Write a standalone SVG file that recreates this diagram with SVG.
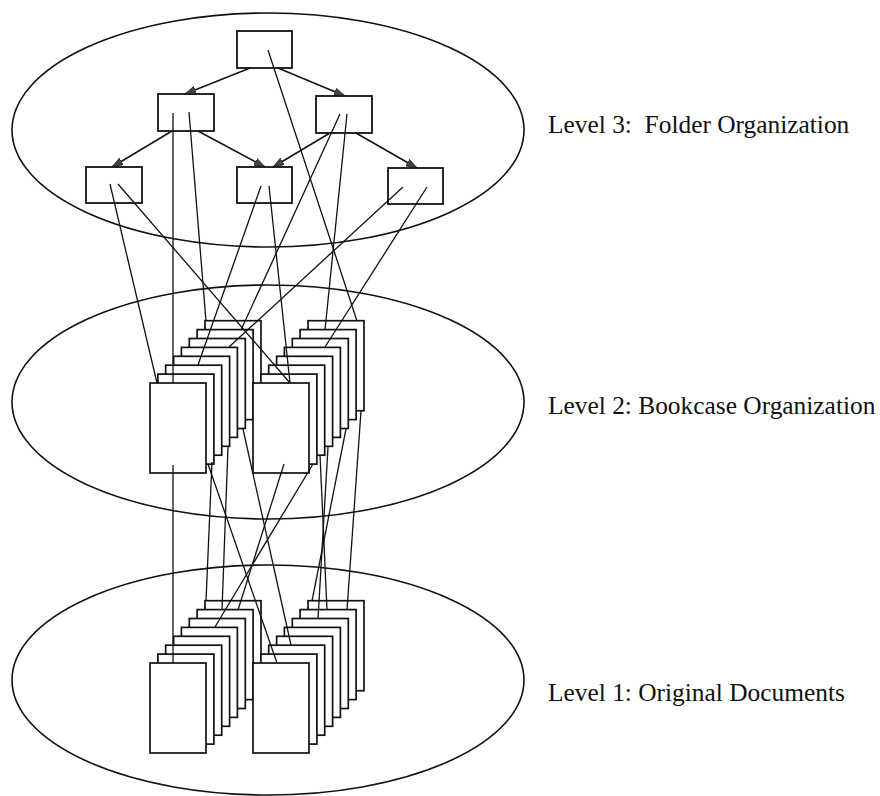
<svg xmlns="http://www.w3.org/2000/svg" xmlns:xlink="http://www.w3.org/1999/xlink" width="880" height="796" viewBox="0 0 880 796">
<style>
.lvl{fill:none;stroke:#111;stroke-width:1.6}
.box{fill:#fff;stroke:#111;stroke-width:1.8}
.pg{fill:#fff;stroke:#111;stroke-width:1.7}
.ln{stroke:#111;stroke-width:1.3;fill:none}
.arr{stroke:#111;stroke-width:1.5;fill:none;marker-end:url(#ah)}
.lab{font-family:"Liberation Serif","Times New Roman",serif;font-size:25.4px;fill:#111;white-space:pre}
</style>
<defs>
<marker id="ah" viewBox="0 0 10 7" refX="10" refY="3.5" markerWidth="11" markerHeight="8" markerUnits="userSpaceOnUse" orient="auto">
<path d="M0,0 L10,3.5 L0,7 z" fill="#444" stroke="#111" stroke-width="0.6"/>
</marker>
<rect id="page" width="56" height="90" class="pg"/>
</defs>
<rect width="880" height="796" fill="#fff"/>
<g id="levels">
<ellipse id="level3" class="lvl" cx="268" cy="130" rx="256" ry="117"/>
<ellipse id="level2" class="lvl" cx="268" cy="402" rx="256" ry="117"/>
<ellipse id="level1" class="lvl" cx="268" cy="680" rx="256" ry="115"/>
</g>
<g id="labels">
<text class="lab" x="548" y="133">Level 3:  Folder Organization</text>
<text class="lab" x="548" y="414">Level 2: Bookcase Organization</text>
<text class="lab" x="548" y="701">Level 1: Original Documents</text>
</g>
<g id="folders">
<g id="f-root"><rect class="box" x="237" y="31" width="55" height="37"/></g>
<g id="f-ml"><rect class="box" x="158" y="94" width="56" height="37"/></g>
<g id="f-mr"><rect class="box" x="316" y="96" width="56" height="37"/></g>
<g id="f-bl"><rect class="box" x="86" y="167" width="56" height="36"/></g>
<g id="f-bm"><rect class="box" x="237" y="167" width="55" height="36"/></g>
<g id="f-br"><rect class="box" x="388" y="168" width="55" height="36"/></g>
</g>
<g id="bookcase-left">
<use xlink:href="#page" x="205" y="320.7"/><use xlink:href="#page" x="197.1" y="329.6"/><use xlink:href="#page" x="189.3" y="338.5"/><use xlink:href="#page" x="181.4" y="347.4"/><use xlink:href="#page" x="173.6" y="356.3"/><use xlink:href="#page" x="165.7" y="365.2"/><use xlink:href="#page" x="157.9" y="374.1"/><use xlink:href="#page" x="150" y="383"/>
</g>
<g id="bookcase-right">
<use xlink:href="#page" x="308" y="320.7"/><use xlink:href="#page" x="300.1" y="329.6"/><use xlink:href="#page" x="292.3" y="338.5"/><use xlink:href="#page" x="284.4" y="347.4"/><use xlink:href="#page" x="276.6" y="356.3"/><use xlink:href="#page" x="268.7" y="365.2"/><use xlink:href="#page" x="260.9" y="374.1"/><use xlink:href="#page" x="253" y="383"/>
</g>
<g id="docs-left">
<use xlink:href="#page" x="205" y="600.7"/><use xlink:href="#page" x="197.1" y="609.6"/><use xlink:href="#page" x="189.3" y="618.5"/><use xlink:href="#page" x="181.4" y="627.4"/><use xlink:href="#page" x="173.6" y="636.3"/><use xlink:href="#page" x="165.7" y="645.2"/><use xlink:href="#page" x="157.9" y="654.1"/><use xlink:href="#page" x="150" y="663"/>
</g>
<g id="docs-right">
<use xlink:href="#page" x="308" y="600.7"/><use xlink:href="#page" x="300.1" y="609.6"/><use xlink:href="#page" x="292.3" y="618.5"/><use xlink:href="#page" x="284.4" y="627.4"/><use xlink:href="#page" x="276.6" y="636.3"/><use xlink:href="#page" x="268.7" y="645.2"/><use xlink:href="#page" x="260.9" y="654.1"/><use xlink:href="#page" x="253" y="663"/>
</g>
<g id="connectors">
<line class="arr" x1="250" y1="68" x2="185" y2="94"/>
<line class="arr" x1="278" y1="68" x2="345" y2="96"/>
<line class="arr" x1="172" y1="131" x2="112" y2="167"/>
<line class="arr" x1="198" y1="131" x2="265" y2="167"/>
<line class="arr" x1="330" y1="133" x2="273" y2="167"/>
<line class="arr" x1="356" y1="133" x2="417" y2="168"/>
<line class="ln" x1="268" y1="50" x2="357" y2="321"/>
<line class="ln" x1="173" y1="113" x2="173" y2="383"/>
<line class="ln" x1="189" y1="112" x2="206" y2="321"/>
<line class="ln" x1="340" y1="114" x2="241" y2="330"/>
<line class="ln" x1="347" y1="114" x2="325" y2="330"/>
<line class="ln" x1="110" y1="184" x2="157" y2="383"/>
<line class="ln" x1="118" y1="184" x2="290" y2="383"/>
<line class="ln" x1="261" y1="186" x2="198" y2="365"/>
<line class="ln" x1="269" y1="186" x2="290" y2="383"/>
<line class="ln" x1="403" y1="187" x2="229" y2="347"/>
<line class="ln" x1="427" y1="187" x2="325" y2="347"/>
<line class="ln" x1="173" y1="465" x2="173" y2="663"/>
<line class="ln" x1="208" y1="464" x2="277" y2="663"/>
<line class="ln" x1="212" y1="462" x2="206" y2="601"/>
<line class="ln" x1="228" y1="447" x2="222" y2="610"/>
<line class="ln" x1="243" y1="429" x2="291" y2="645"/>
<line class="ln" x1="284" y1="464" x2="238" y2="610"/>
<line class="ln" x1="313" y1="464" x2="215" y2="627"/>
<line class="ln" x1="320" y1="455" x2="327" y2="610"/>
<line class="ln" x1="346" y1="429" x2="312" y2="601"/>
<line class="ln" x1="361" y1="411" x2="347" y2="610"/>
<line class="ln" x1="328" y1="447" x2="318" y2="619"/>
</g>
</svg>
